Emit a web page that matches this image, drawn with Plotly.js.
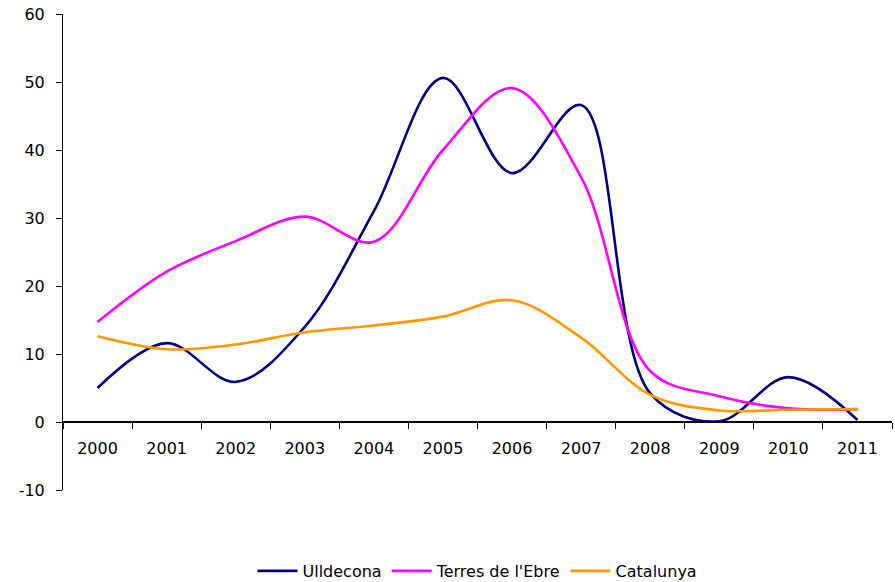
<!DOCTYPE html>
<html>
<head>
<meta charset="utf-8">
<script src="https://cdn.plot.ly/plotly-3.0.1.min.js"></script>
<style>html,body{margin:0;padding:0;background:#fff;}#chart{width:895px;height:582px;}</style>
</head>
<body>
<div id="chart"></div>
<script>
var years = ["2000","2001","2002","2003","2004","2005","2006","2007","2008","2009","2010","2011"];
var ulldecona = [5.0, 11.6, 5.9, 14.0, 31.0, 50.6, 36.6, 46.6, 4.2, 0.1, 6.6, 0.3];
var terresEbre = [14.7, 22.1, 26.6, 30.2, 26.5, 40.0, 49.1, 36.0, 7.5, 3.8, 2.0, 1.9];
var catalunya = [12.6, 10.7, 11.4, 13.2, 14.2, 15.5, 17.9, 12.4, 4.0, 1.7, 1.8, 1.9];
var yTicks = [-10, 0, 10, 20, 30, 40, 50, 60];
var yTickText = ["-10", "0", "10", "20", "30", "40", "50", "60"];

function tr(name, y, color) {
  return {x: years, y: y, name: name, type: 'scatter', mode: 'lines',
    line: {color: color, width: 2.6, shape: 'spline', smoothing: 1}, hoverinfo: 'skip'};
}
var data = [
  tr('Ulldecona', ulldecona, '#000080'),
  tr("Terres de l'Ebre", terresEbre, '#FF00FF'),
  tr('Catalunya', catalunya, '#FF9900')
];
var yMin = -10, yMax = 60;
var FONT = 'DejaVu Sans, Liberation Sans, Arial, sans-serif';
var layout = {
  width: 895, height: 582,
  margin: {l: 63, r: 3, t: 14, b: 92},
  paper_bgcolor: '#fff', plot_bgcolor: '#fff',
  font: {family: FONT, size: 16, color: '#000'},
  showlegend: true,
  legend: {orientation: 'h', x: 0.5, xanchor: 'center', yref: 'container', y: 0.019, yanchor: 'middle',
    font: {size: 16}, itemwidth: 40, tracegroupgap: 0},
  xaxis: {type: 'category', range: [-0.5, 11.5], anchor: 'free',
    position: (0 - yMin) / (yMax - yMin),
    showline: true, linecolor: '#000', linewidth: 2,
    ticks: 'outside', tickson: 'boundaries', ticklen: 6, tickcolor: '#000', tickwidth: 1,
    ticklabelstandoff: 12,
    showgrid: false, zeroline: false, tickfont: {size: 16}, fixedrange: true, automargin: false},
  yaxis: {range: [yMin, yMax], tickvals: yTicks, ticktext: yTickText, showline: true, linecolor: '#000', linewidth: 1,
    ticks: 'outside', ticklen: 6, tickcolor: '#000', showgrid: false, zeroline: false,
    ticklabelstandoff: 8,
    tickfont: {size: 16}, fixedrange: true, automargin: false}
};
Plotly.newPlot('chart', data, layout, {displayModeBar: false, staticPlot: true});
</script>
</body>
</html>
